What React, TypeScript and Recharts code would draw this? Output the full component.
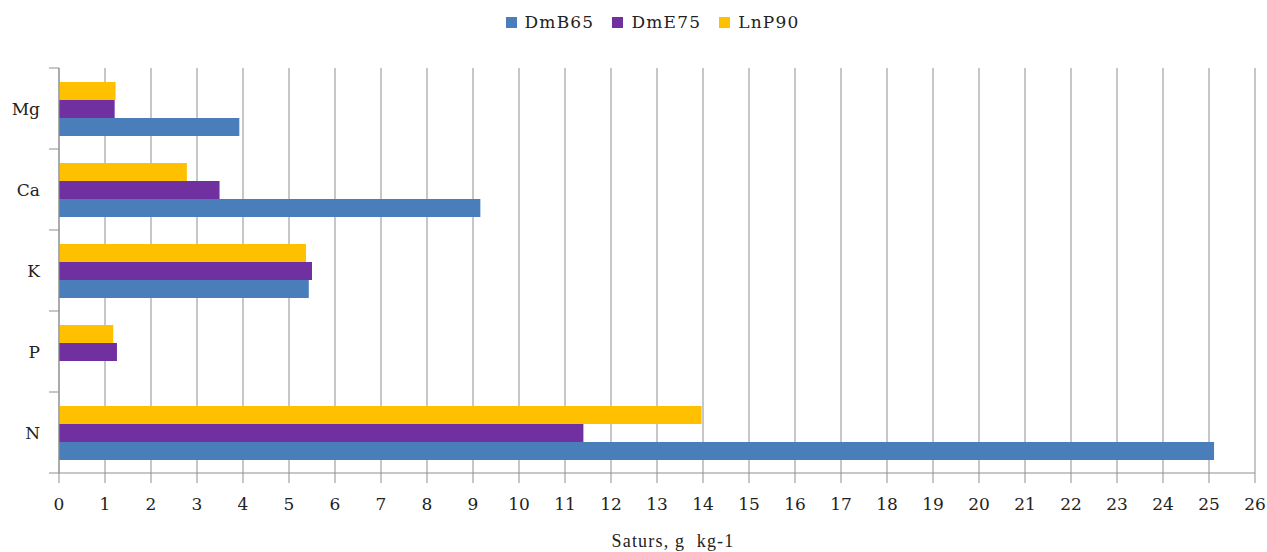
import { BarChart, Bar, XAxis, YAxis, CartesianGrid } from "recharts";

const elements = ["Mg", "Ca", "K", "P", "N"];
const dmB65 = [3.92, 9.16, 5.43, 0, 25.11];
const dmE75 = [1.21, 3.49, 5.5, 1.26, 11.4];
const lnP90 = [1.23, 2.78, 5.37, 1.18, 13.97];
const xTicks = [0, 1, 2, 3, 4, 5, 6, 7, 8, 9, 10, 11, 12, 13, 14, 15, 16, 17, 18, 19, 20, 21, 22, 23, 24, 25, 26];

const SERIES = [
  { key: "DmB65", color: "#4a7ebb" },
  { key: "DmE75", color: "#7030a0" },
  { key: "LnP90", color: "#ffc000" },
];

const W = 1267;
const H = 552;
const MARGIN = { top: 68, right: 12, bottom: 0, left: 0 };
const Y_AXIS_W = 59;
const X_AXIS_H = 79;
const GRID = "#8f8f8f";
const FONT = "'DejaVu Serif', serif";

const data = elements.map((name, i) => ({
  name,
  DmB65: dmB65[i],
  DmE75: dmE75[i],
  LnP90: lnP90[i],
}));

const band = (H - MARGIN.top - X_AXIS_H) / elements.length;

function YTick(props: any) {
  const { x, y, payload, index } = props;
  const top = y - band / 2;
  const bottom = y + band / 2;
  return (
    <g>
      <line x1={Y_AXIS_W - 10} x2={Y_AXIS_W} y1={top} y2={top} stroke={GRID} />
      {index === elements.length - 1 && (
        <line x1={Y_AXIS_W - 10} x2={Y_AXIS_W} y1={bottom} y2={bottom} stroke={GRID} />
      )}
      <text x={x} y={y} dy={6} textAnchor="end" fill="#222" fontSize={17} fontFamily={FONT}>
        {payload.value}
      </text>
    </g>
  );
}

function AxisTitle(props: any) {
  const { viewBox } = props;
  return (
    <text
      x={viewBox.x + viewBox.width / 2 + 16}
      y={viewBox.y + viewBox.height - 5}
      textAnchor="middle"
      fill="#222"
      fontSize={18}
      fontFamily="'Liberation Serif', serif"
      style={{ whiteSpace: "pre", letterSpacing: 1.2 }}
    >
      {"Saturs, g  kg-1"}
    </text>
  );
}

export default function App() {
  return (
    <div style={{ position: "relative", width: W, height: H, background: "#fff" }}>
      <style>{"body{margin:0}"}</style>
      {/* Legend */}
      <div
        style={{
          position: "absolute",
          top: 12,
          left: 0,
          width: W,
          paddingLeft: 38,
          boxSizing: "border-box",
          display: "flex",
          justifyContent: "center",
          gap: 18,
          fontFamily: FONT,
          fontSize: 17,
          letterSpacing: 1.2,
          color: "#222",
        }}
      >
        {SERIES.map((s) => (
          <div key={s.key} style={{ display: "flex", alignItems: "center", gap: 8 }}>
            <span style={{ width: 11, height: 11, background: s.color, display: "inline-block" }} />
            <span>{s.key}</span>
          </div>
        ))}
      </div>
      <BarChart
        width={W}
        height={H}
        data={data}
        layout="vertical"
        margin={MARGIN}
        barCategoryGap={14}
        barGap={0}
      >
        <CartesianGrid horizontal={false} stroke={GRID} />
        <XAxis
          type="number"
          domain={[0, 26]}
          ticks={xTicks}
          interval={0}
          height={X_AXIS_H}
          stroke={GRID}
          tickSize={10}
          tickMargin={15}
          tick={{ fill: "#222", fontSize: 17, fontFamily: FONT }}
          label={<AxisTitle />}
        />
        <YAxis
          type="category"
          dataKey="name"
          width={Y_AXIS_W}
          stroke={GRID}
          tickLine={false}
          tickSize={10}
          tickMargin={9}
          tick={<YTick />}
        />
        <Bar dataKey="LnP90" fill="#ffc000" isAnimationActive={false} />
        <Bar dataKey="DmE75" fill="#7030a0" isAnimationActive={false} />
        <Bar dataKey="DmB65" fill="#4a7ebb" isAnimationActive={false} />
      </BarChart>
    </div>
  );
}
